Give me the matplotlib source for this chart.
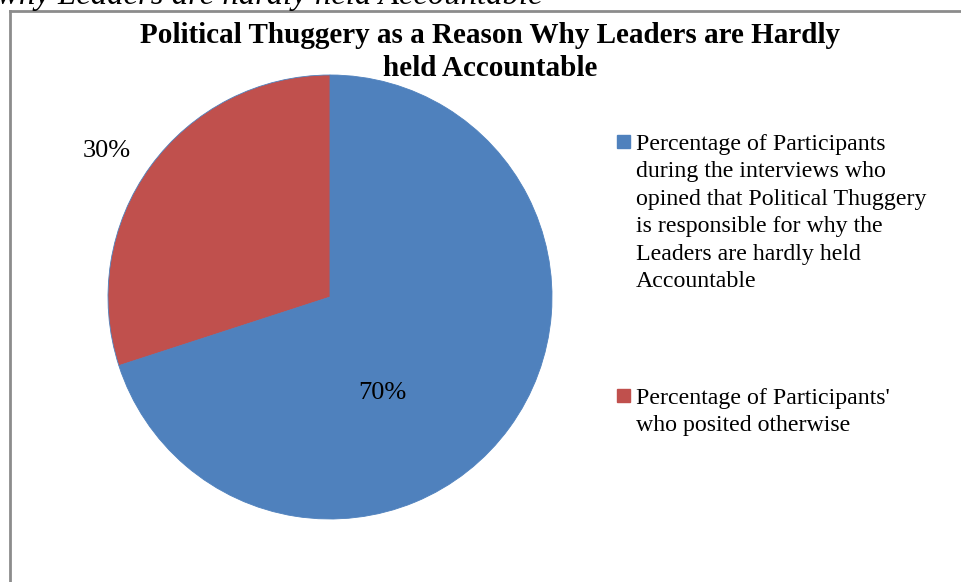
import matplotlib.pyplot as plt
from matplotlib.lines import Line2D
from matplotlib.patches import Rectangle

plt.rcParams["font.family"] = ["Liberation Serif", "DejaVu Serif"]

categories = [
    "Percentage of Participants\nduring the interviews who\nopined that Political Thuggery\n"
    "is responsible for why the\nLeaders are hardly held\nAccountable",
    "Percentage of Participants'\nwho posited otherwise",
]
shares = [70, 30]
colors = ["#4F81BD", "#C0504D"]
title = "Political Thuggery as a Reason Why Leaders are Hardly\nheld Accountable"

W, H = 961, 582
fig = plt.figure(figsize=(W / 100, H / 100), dpi=100)


def fx(px):
    return px / W


def fy(py):
    return 1 - py / H


# caption line from the page above, cut off at the top
fig.text(fx(-3), fy(4), "why Leaders are hardly held Accountable", fontsize=23.6,
         style="italic", ha="left", va="baseline")

# chart frame (right and bottom edges run off the image)
frame = dict(color="#8c8c8c", linewidth=2, transform=fig.transFigure)
fig.add_artist(Line2D([fx(10), 1.0], [fy(11), fy(11)], **frame))
fig.add_artist(Line2D([fx(10), fx(10)], [fy(11), 0.0], **frame))

for i, line in enumerate(title.split("\n")):
    fig.text(fx(490), fy(43 + 33 * i), line, fontsize=21, fontweight="bold",
             ha="center", va="baseline")

# pie
cx, cy, r = 330, 297, 222
ax = fig.add_axes([fx(cx - r), 1 - (cy + r) / H, 2 * r / W, 2 * r / H])
ax.pie(shares, colors=colors, startangle=90, counterclock=False, radius=1,
       wedgeprops=dict(linewidth=0.6, edgecolor="#4F81BD"))
ax.set_xlim(-1, 1)
ax.set_ylim(-1, 1)
ax.set_aspect("equal")
ax.axis("off")

label_pos = [(382, 393), (107, 151)]
for v, (px, py) in zip(shares, label_pos):
    fig.text(fx(px), fy(py), f"{v}%", fontsize=19, ha="center", va="center")

# legend
legend_rows = [141.5, 395.5]
for cat, col, py in zip(categories, colors, legend_rows):
    fig.add_artist(Rectangle((fx(617), fy(py + 6.5)), fx(13), 13 / H, facecolor=col,
                             edgecolor=col, transform=fig.transFigure))
    for j, line in enumerate(cat.split("\n")):
        fig.text(fx(636), fy(py + 8.5 + 27.4 * j), line, fontsize=17.2,
                 ha="left", va="baseline")

fig.savefig("out.png", dpi=100)
